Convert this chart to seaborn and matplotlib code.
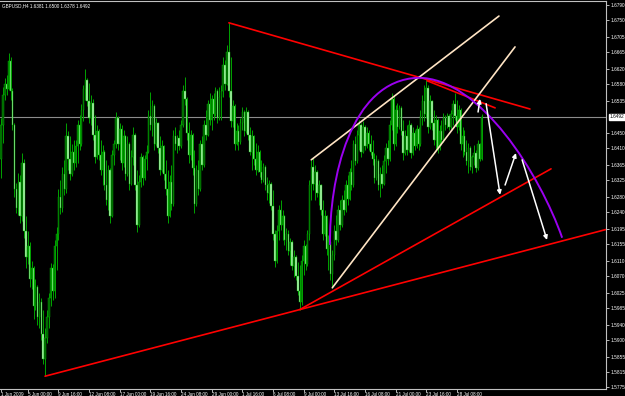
import numpy as np
import pandas as pd
import matplotlib
matplotlib.use("Agg")
import matplotlib.pyplot as plt
import matplotlib.transforms as mtransforms
from matplotlib.path import Path
from matplotlib.patches import PathPatch
import seaborn as sns

# ---------------- data (GBPUSD H4) ----------------
opens = [
1.6380, 1.6470, 1.6550, 1.6580, 1.6565, 1.6640, 1.6560, 1.6470, 1.6300, 1.6250,
1.6320, 1.6230, 1.6370, 1.6190, 1.6120, 1.6150, 1.6060, 1.6090, 1.5990, 1.6040,
1.5960, 1.6000, 1.5915, 1.5850, 1.5905, 1.5960, 1.6010, 1.6090, 1.6030, 1.6150,
1.6180, 1.6280, 1.6250, 1.6340, 1.6300, 1.6440, 1.6380, 1.6340, 1.6400, 1.6370,
1.6415, 1.6470, 1.6420, 1.6510, 1.6565, 1.6590, 1.6535, 1.6490, 1.6530, 1.6445,
1.6385, 1.6455, 1.6390, 1.6350, 1.6400, 1.6310, 1.6270, 1.6350, 1.6230, 1.6390,
1.6420, 1.6490, 1.6420, 1.6460, 1.6370, 1.6440, 1.6340, 1.6420, 1.6315, 1.6385,
1.6445, 1.6310, 1.6205, 1.6320, 1.6385, 1.6330, 1.6380, 1.6400, 1.6495, 1.6470,
1.6520, 1.6420, 1.6475, 1.6410, 1.6350, 1.6415, 1.6340, 1.6300, 1.6230, 1.6320,
1.6260, 1.6440, 1.6420, 1.6435, 1.6415, 1.6470, 1.6560, 1.6540, 1.6450, 1.6390,
1.6445, 1.6355, 1.6260, 1.6350, 1.6300, 1.6420, 1.6365, 1.6470, 1.6445, 1.6525,
1.6485, 1.6540, 1.6500, 1.6560, 1.6490, 1.6545, 1.6560, 1.6630, 1.6580, 1.6665,
1.6560, 1.6480, 1.6520, 1.6420, 1.6455, 1.6425, 1.6475, 1.6505, 1.6455, 1.6505,
1.6445, 1.6400, 1.6440, 1.6380, 1.6350, 1.6400, 1.6345, 1.6325, 1.6360, 1.6310,
1.6290, 1.6315, 1.6255, 1.6180, 1.6110, 1.6190, 1.6245, 1.6205, 1.6230, 1.6165,
1.6180, 1.6135, 1.6160, 1.6095, 1.6120, 1.6070, 1.6030, 1.6000, 1.6110, 1.6150,
1.6100, 1.6180, 1.6310, 1.6360, 1.6315, 1.6345, 1.6290, 1.6310, 1.6245, 1.6180,
1.6230, 1.6140, 1.6160, 1.6075, 1.6125, 1.6190, 1.6165, 1.6245, 1.6205, 1.6270,
1.6245, 1.6310, 1.6275, 1.6345, 1.6310, 1.6420, 1.6375, 1.6445, 1.6470, 1.6400,
1.6465, 1.6415, 1.6450, 1.6420, 1.6400, 1.6380, 1.6330, 1.6375, 1.6310, 1.6340,
1.6315, 1.6375, 1.6410, 1.6380, 1.6470, 1.6540, 1.6420, 1.6510, 1.6465, 1.6515,
1.6455, 1.6395, 1.6440, 1.6405, 1.6470, 1.6395, 1.6450, 1.6415, 1.6460, 1.6420,
1.6495, 1.6535, 1.6500, 1.6570, 1.6465, 1.6535, 1.6475, 1.6430, 1.6485, 1.6410,
1.6455, 1.6430, 1.6490, 1.6470, 1.6495, 1.6465, 1.6500, 1.6525, 1.6495, 1.6465,
1.6510, 1.6420, 1.6440, 1.6400, 1.6375, 1.6410, 1.6360, 1.6385, 1.6395, 1.6355,
1.6420, 1.6381]

highs = [
1.6490, 1.6572, 1.6596, 1.6604, 1.6662, 1.6650, 1.6570, 1.6476, 1.6317, 1.6343,
1.6338, 1.6395, 1.6380, 1.6230, 1.6190, 1.6160, 1.6110, 1.6095, 1.6060, 1.6045,
1.6025, 1.6010, 1.5980, 1.5930, 1.5980, 1.6025, 1.6105, 1.6100, 1.6165, 1.6200,
1.6300, 1.6325, 1.6360, 1.6378, 1.6475, 1.6455, 1.6440, 1.6420, 1.6430, 1.6430,
1.6484, 1.6497, 1.6525, 1.6577, 1.6620, 1.6595, 1.6582, 1.6550, 1.6540, 1.6497,
1.6470, 1.6460, 1.6431, 1.6418, 1.6404, 1.6378, 1.6365, 1.6355, 1.6404, 1.6431,
1.6505, 1.6495, 1.6475, 1.6470, 1.6458, 1.6445, 1.6440, 1.6425, 1.6404, 1.6465,
1.6450, 1.6351, 1.6338, 1.6396, 1.6390, 1.6392, 1.6418, 1.6511, 1.6558, 1.6537,
1.6525, 1.6490, 1.6478, 1.6440, 1.6431, 1.6418, 1.6378, 1.6351, 1.6338, 1.6365,
1.6458, 1.6465, 1.6445, 1.6458, 1.6484, 1.6577, 1.6598, 1.6545, 1.6478, 1.6458,
1.6450, 1.6404, 1.6365, 1.6378, 1.6431, 1.6440, 1.6484, 1.6511, 1.6537, 1.6556,
1.6550, 1.6556, 1.6572, 1.6565, 1.6572, 1.6577, 1.6652, 1.6644, 1.6683, 1.6742,
1.6652, 1.6537, 1.6525, 1.6476, 1.6470, 1.6490, 1.6518, 1.6511, 1.6518, 1.6510,
1.6466, 1.6458, 1.6445, 1.6423, 1.6418, 1.6405, 1.6378, 1.6370, 1.6365, 1.6333,
1.6325, 1.6320, 1.6298, 1.6192, 1.6205, 1.6258, 1.6272, 1.6245, 1.6232, 1.6198,
1.6192, 1.6170, 1.6165, 1.6139, 1.6125, 1.6107, 1.6099, 1.6125, 1.6165, 1.6155,
1.6192, 1.6325, 1.6378, 1.6383, 1.6365, 1.6350, 1.6325, 1.6315, 1.6272, 1.6245,
1.6232, 1.6178, 1.6165, 1.6139, 1.6205, 1.6232, 1.6258, 1.6272, 1.6285, 1.6298,
1.6325, 1.6338, 1.6357, 1.6378, 1.6431, 1.6440, 1.6458, 1.6484, 1.6475, 1.6480,
1.6470, 1.6466, 1.6458, 1.6445, 1.6431, 1.6396, 1.6390, 1.6380, 1.6360, 1.6365,
1.6390, 1.6423, 1.6431, 1.6484, 1.6556, 1.6550, 1.6524, 1.6530, 1.6524, 1.6520,
1.6484, 1.6458, 1.6470, 1.6484, 1.6475, 1.6466, 1.6458, 1.6470, 1.6466, 1.6511,
1.6550, 1.6577, 1.6590, 1.6577, 1.6550, 1.6537, 1.6511, 1.6497, 1.6490, 1.6470,
1.6484, 1.6503, 1.6497, 1.6503, 1.6500, 1.6511, 1.6537, 1.6556, 1.6537, 1.6524,
1.6515, 1.6466, 1.6458, 1.6431, 1.6423, 1.6415, 1.6390, 1.6418, 1.6404, 1.6431,
1.6423, 1.6500]

lows = [
1.6330, 1.6423, 1.6537, 1.6550, 1.6564, 1.6537, 1.6458, 1.6280, 1.6237, 1.6232,
1.6210, 1.6215, 1.6170, 1.6090, 1.6100, 1.6040, 1.6035, 1.5955, 1.5980, 1.5940,
1.5930, 1.5900, 1.5835, 1.5803, 1.5890, 1.5930, 1.5990, 1.6005, 1.6010, 1.6085,
1.6165, 1.6235, 1.6240, 1.6285, 1.6290, 1.6350, 1.6325, 1.6335, 1.6350, 1.6360,
1.6370, 1.6404, 1.6415, 1.6480, 1.6537, 1.6520, 1.6476, 1.6470, 1.6431, 1.6370,
1.6380, 1.6378, 1.6338, 1.6312, 1.6298, 1.6258, 1.6245, 1.6210, 1.6225, 1.6365,
1.6410, 1.6404, 1.6378, 1.6351, 1.6360, 1.6325, 1.6335, 1.6298, 1.6310, 1.6365,
1.6298, 1.6185, 1.6200, 1.6305, 1.6312, 1.6325, 1.6351, 1.6395, 1.6458, 1.6440,
1.6404, 1.6415, 1.6396, 1.6338, 1.6345, 1.6325, 1.6285, 1.6210, 1.6225, 1.6245,
1.6255, 1.6404, 1.6396, 1.6404, 1.6410, 1.6465, 1.6524, 1.6431, 1.6370, 1.6378,
1.6338, 1.6237, 1.6255, 1.6285, 1.6295, 1.6351, 1.6360, 1.6431, 1.6440, 1.6470,
1.6458, 1.6484, 1.6495, 1.6476, 1.6485, 1.6484, 1.6545, 1.6564, 1.6577, 1.6545,
1.6466, 1.6466, 1.6404, 1.6418, 1.6404, 1.6420, 1.6458, 1.6440, 1.6450, 1.6431,
1.6390, 1.6351, 1.6365, 1.6338, 1.6345, 1.6333, 1.6317, 1.6320, 1.6298, 1.6272,
1.6264, 1.6245, 1.6165, 1.6094, 1.6105, 1.6165, 1.6192, 1.6165, 1.6152, 1.6139,
1.6125, 1.6099, 1.6086, 1.6067, 1.6059, 1.6019, 1.5980, 1.5993, 1.6072, 1.6086,
1.6095, 1.6165, 1.6272, 1.6298, 1.6272, 1.6280, 1.6258, 1.6232, 1.6165, 1.6175,
1.6125, 1.6086, 1.6059, 1.6038, 1.6112, 1.6152, 1.6160, 1.6192, 1.6200, 1.6232,
1.6240, 1.6258, 1.6270, 1.6298, 1.6305, 1.6365, 1.6370, 1.6404, 1.6386, 1.6395,
1.6404, 1.6410, 1.6404, 1.6390, 1.6365, 1.6317, 1.6325, 1.6298, 1.6280, 1.6304,
1.6310, 1.6343, 1.6365, 1.6375, 1.6458, 1.6404, 1.6415, 1.6450, 1.6460, 1.6445,
1.6378, 1.6390, 1.6390, 1.6400, 1.6383, 1.6390, 1.6404, 1.6410, 1.6404, 1.6415,
1.6470, 1.6480, 1.6490, 1.6450, 1.6460, 1.6458, 1.6418, 1.6404, 1.6396, 1.6404,
1.6418, 1.6425, 1.6458, 1.6463, 1.6458, 1.6460, 1.6470, 1.6484, 1.6450, 1.6458,
1.6404, 1.6386, 1.6390, 1.6365, 1.6343, 1.6351, 1.6343, 1.6365, 1.6346, 1.6350,
1.6376, 1.6378]

closes = [
1.6470, 1.6550, 1.6580, 1.6565, 1.6640, 1.6560, 1.6470, 1.6300, 1.6250, 1.6320,
1.6230, 1.6370, 1.6190, 1.6120, 1.6150, 1.6060, 1.6090, 1.5990, 1.6040, 1.5960,
1.6000, 1.5915, 1.5850, 1.5905, 1.5960, 1.6010, 1.6090, 1.6030, 1.6150, 1.6180,
1.6280, 1.6250, 1.6340, 1.6300, 1.6440, 1.6380, 1.6340, 1.6400, 1.6370, 1.6415,
1.6470, 1.6420, 1.6510, 1.6565, 1.6590, 1.6535, 1.6490, 1.6530, 1.6445, 1.6385,
1.6455, 1.6390, 1.6350, 1.6400, 1.6310, 1.6270, 1.6350, 1.6230, 1.6390, 1.6420,
1.6490, 1.6420, 1.6460, 1.6370, 1.6440, 1.6340, 1.6420, 1.6315, 1.6385, 1.6445,
1.6310, 1.6205, 1.6320, 1.6385, 1.6330, 1.6380, 1.6400, 1.6495, 1.6470, 1.6520,
1.6420, 1.6475, 1.6410, 1.6350, 1.6415, 1.6340, 1.6300, 1.6230, 1.6320, 1.6260,
1.6440, 1.6420, 1.6435, 1.6415, 1.6470, 1.6560, 1.6540, 1.6450, 1.6390, 1.6445,
1.6355, 1.6260, 1.6350, 1.6300, 1.6420, 1.6365, 1.6470, 1.6445, 1.6525, 1.6485,
1.6540, 1.6500, 1.6560, 1.6490, 1.6545, 1.6560, 1.6630, 1.6580, 1.6665, 1.6560,
1.6480, 1.6520, 1.6420, 1.6455, 1.6425, 1.6475, 1.6505, 1.6455, 1.6505, 1.6445,
1.6400, 1.6440, 1.6380, 1.6350, 1.6400, 1.6345, 1.6325, 1.6360, 1.6310, 1.6290,
1.6315, 1.6255, 1.6180, 1.6110, 1.6190, 1.6245, 1.6205, 1.6230, 1.6165, 1.6180,
1.6135, 1.6160, 1.6095, 1.6120, 1.6070, 1.6030, 1.6000, 1.6110, 1.6150, 1.6100,
1.6180, 1.6310, 1.6360, 1.6315, 1.6345, 1.6290, 1.6310, 1.6245, 1.6180, 1.6230,
1.6140, 1.6160, 1.6075, 1.6125, 1.6190, 1.6165, 1.6245, 1.6205, 1.6270, 1.6245,
1.6310, 1.6275, 1.6345, 1.6310, 1.6420, 1.6375, 1.6445, 1.6470, 1.6400, 1.6465,
1.6415, 1.6450, 1.6420, 1.6400, 1.6380, 1.6330, 1.6375, 1.6310, 1.6340, 1.6315,
1.6375, 1.6410, 1.6380, 1.6470, 1.6540, 1.6420, 1.6510, 1.6465, 1.6515, 1.6455,
1.6395, 1.6440, 1.6405, 1.6470, 1.6395, 1.6450, 1.6415, 1.6460, 1.6420, 1.6495,
1.6535, 1.6500, 1.6570, 1.6465, 1.6535, 1.6475, 1.6430, 1.6485, 1.6410, 1.6455,
1.6430, 1.6490, 1.6470, 1.6495, 1.6465, 1.6500, 1.6525, 1.6495, 1.6465, 1.6510,
1.6420, 1.6440, 1.6400, 1.6375, 1.6410, 1.6360, 1.6385, 1.6395, 1.6355, 1.6420,
1.6381, 1.6492]

symbol = "GBPUSD,H4"

# time axis labels (bar index -> label)
date_ticks = [0, 14, 30, 46, 62, 78, 94, 110, 126, 142, 158, 174, 190, 206, 222, 238]
date_labels = ["1 Jun 2009", "5 Jun 00:00", "9 Jun 16:00", "12 Jun 08:00", "17 Jun 00:00",
               "19 Jun 16:00", "24 Jun 08:00", "29 Jun 00:00", "1 Jul 16:00", "6 Jul 08:00",
               "9 Jul 00:00", "13 Jul 16:00", "16 Jul 08:00", "21 Jul 00:00", "23 Jul 16:00",
               "28 Jul 08:00"]

# price axis labels
price_ticks = [1.6790, 1.6750, 1.6705, 1.6665, 1.6620, 1.6580, 1.6535, 1.6450, 1.6410,
               1.6365, 1.6325, 1.6280, 1.6240, 1.6195, 1.6155, 1.6110, 1.6070, 1.6025,
               1.5985, 1.5940, 1.5900, 1.5855, 1.5815, 1.5775]

# drawn objects (bar index, price)
resist_top_x = [119, 276.2]
resist_top_y = [1.6742, 1.6513]
resist_short_x = [222.5, 258.0]
resist_short_y = [1.6588, 1.6516]
support_long_x = [23, 156]          # ray, extended to the right edge
support_long_y = [1.5803, 1.5980]
support_mid_x = [156, 287.2]
support_mid_y = [1.5980, 1.6354]
chan_upper_x = [162, 260.0]
chan_upper_y = [1.6378, 1.6760]
chan_lower_x = [173, 268.4]
chan_lower_y = [1.6038, 1.6678]
arc_x = [171.8, 171.3, 182.2, 217.8, 250.1, 281.5, 293.0]
arc_y = [1.6152, 1.6325, 1.6590, 1.6596, 1.6596, 1.6338, 1.6171]
arrow_start_x = [249.1, 253.3, 263.2, 272.1]
arrow_start_y = [1.6505, 1.6527, 1.6311, 1.6378]
arrow_end_x = [250.1, 260.6, 268.9, 285.1]
arrow_end_y = [1.6540, 1.6285, 1.6396, 1.6165]

# ---------------- style ----------------
sns.set_style("dark", rc={"axes.facecolor": "black", "figure.facecolor": "black",
                          "axes.grid": False})
plt.rcParams["font.family"] = ["Liberation Sans", "DejaVu Sans"]

W, H = 625, 396
fig = plt.figure(figsize=(W / 100, H / 100), dpi=100)
ax = fig.add_axes([0, 7 / H, 606 / W, 388 / H])
ax.set_facecolor("black")

XMIN, XMAX = -0.52, 315.9
ax.set_xlim(XMIN, XMAX)
ax.set_ylim(1.5769, 1.6800)

df = pd.DataFrame({"o": opens, "h": highs, "l": lows, "c": closes})
df["i"] = np.arange(len(df))
up = df["c"] >= df["o"]

# wicks
ax.vlines(df["i"], df["l"], df["h"], color="#00a400", lw=0.7, zorder=2)
# bodies
body_col = np.where(up, "#006000", "#b4f5b4")
ax.bar(df["i"], (df["c"] - df["o"]).abs().clip(lower=0.00006),
       bottom=np.minimum(df["o"], df["c"]), width=0.72, color=body_col,
       edgecolor="#00b000", linewidth=0.3, zorder=3)

# current price line
ax.axhline(closes[-1], color="#8c8c8c", lw=0.8, zorder=1)

# trend lines
def tline(xs, ys, color, lw=1.2):
    d = pd.DataFrame({"x": xs, "y": ys})
    sns.lineplot(data=d, x="x", y="y", color=color, lw=lw, ax=ax, sort=False,
                 legend=False, zorder=5)

red = "#ff0000"
cream = "#ffe4c4"
tline(resist_top_x, resist_top_y, red)
tline(resist_short_x, resist_short_y, red)
slope = (support_long_y[1] - support_long_y[0]) / (support_long_x[1] - support_long_x[0])
tline([support_long_x[0], XMAX], [support_long_y[0], support_long_y[0] + slope * (XMAX - support_long_x[0])], red)
tline(support_mid_x, support_mid_y, red)
tline(chan_upper_x, chan_upper_y, cream)
tline(chan_lower_x, chan_lower_y, cream)

# arc
verts = list(zip(arc_x, arc_y))
codes = [Path.MOVETO] + [Path.CURVE4] * 6
ax.add_patch(PathPatch(Path(verts, codes), fill=False, edgecolor="#9b00f0", lw=1.4, zorder=6))

# arrows
for sx, sy, ex, ey in zip(arrow_start_x, arrow_start_y, arrow_end_x, arrow_end_y):
    ax.annotate("", xy=(ex, ey), xytext=(sx, sy),
                arrowprops=dict(arrowstyle="-|>", color="white", lw=1.1,
                                mutation_scale=6, shrinkA=0, shrinkB=0), zorder=7)

# axes styling
ax.spines["left"].set_visible(False)
for s in ["right", "bottom", "top"]:
    ax.spines[s].set_visible(True)
    ax.spines[s].set_color("#c0c0c0")
    ax.spines[s].set_linewidth(0.8)

ax.yaxis.tick_right()
ax.set_yticks(price_ticks)
ax.set_yticklabels([f"{v:.4f}" for v in price_ticks])
ax.tick_params(axis="y", colors="white", labelcolor="white", labelsize=3.4,
               length=2, width=0.5, pad=1, right=True, left=False)
ax.set_xticks(date_ticks)
ax.set_xticklabels(date_labels, ha="left")
ax.tick_params(axis="x", colors="white", labelcolor="white", labelsize=3.3,
               length=2, width=0.5, pad=0.5, bottom=True)
ax.set_xlabel("")
ax.set_ylabel("")

# current price box
trans = mtransforms.blended_transform_factory(ax.transAxes, ax.transData)
ax.text(1.006, closes[-1], f"{closes[-1]:.4f}", transform=trans, ha="left", va="center",
        fontsize=3.4, color="black", zorder=10, clip_on=False,
        bbox=dict(boxstyle="square,pad=0.12", fc="white", ec="white"))

# header
ax.text(0.003, 0.995, f"{symbol} {opens[-1]:.4f} {highs[-1]:.4f} {lows[-1]:.4f} {closes[-1]:.4f}",
        transform=ax.transAxes, ha="left", va="top", fontsize=3.3, color="white", zorder=10)

fig.savefig("out.png", dpi=100, facecolor="black")
